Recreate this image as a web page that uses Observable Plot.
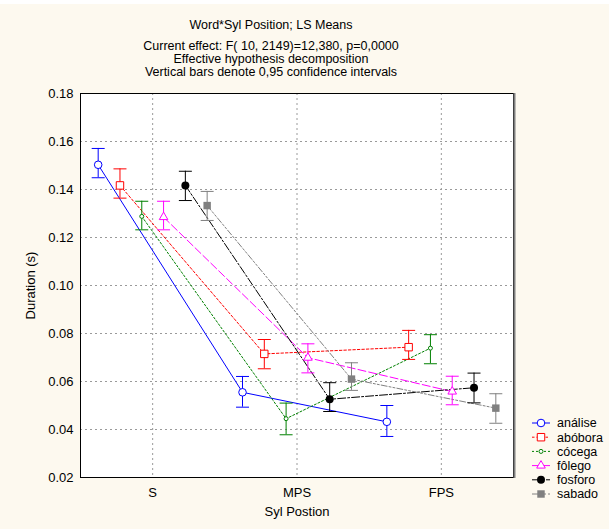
<!DOCTYPE html>
<html>
<head>
<meta charset="utf-8">
<script src="https://cdn.jsdelivr.net/npm/d3@7"></script>
<script src="https://cdn.jsdelivr.net/npm/@observablehq/plot@0.6"></script>
<style>
  html, body { margin: 0; padding: 0; background: #ffffff; }
  #chart { width: 609px; height: 529px; }
</style>
</head>
<body>
<div id="chart"></div>
<script>
// ---------- data ----------
const positions = ["S", "MPS", "FPS"];
const words = ["análise", "abóbora", "cócega", "fôlego", "fosforo", "sabado"];

const meanAnalise = [0.1503, 0.0555, 0.0432];
const lowAnalise  = [0.1449, 0.0493, 0.0371];
const highAnalise = [0.1571, 0.0621, 0.0500];

const meanAbobora = [0.1417, 0.0715, 0.0743];
const lowAbobora  = [0.1364, 0.0653, 0.0692];
const highAbobora = [0.1486, 0.0775, 0.0813];

const meanCocega = [0.1288, 0.0445, 0.0739];
const lowCocega  = [0.1232, 0.0378, 0.0674];
const highCocega = [0.1351, 0.0510, 0.0795];

const meanFolego = [0.1285, 0.0699, 0.0558];
const lowFolego  = [0.1232, 0.0636, 0.0503];
const highFolego = [0.1351, 0.0757, 0.0622];

const meanFosforo = [0.1417, 0.0526, 0.0574];
const lowFosforo  = [0.1354, 0.0475, 0.0511];
const highFosforo = [0.1476, 0.0595, 0.0635];

const meanSabado = [0.1333, 0.0610, 0.0489];
const lowSabado  = [0.1271, 0.0563, 0.0426];
const highSabado = [0.1392, 0.0678, 0.0549];

const yTicks = [0.02, 0.04, 0.06, 0.08, 0.10, 0.12, 0.14, 0.16, 0.18];

const titleLines = [
  "Word*Syl Position; LS Means",
  "Current effect: F( 10, 2149)=12,380, p=0,0000",
  "Effective hypothesis decomposition",
  "Vertical bars denote 0,95 confidence intervals"
];

// ---------- styles ----------
const styles = [
  {color: "#0000ff", dash: null,            symbol: "circle",   r: 3.8, fill: "white"},
  {color: "#ff0000", dash: "2.5,2",         symbol: "square",   r: 4.2, fill: "white"},
  {color: "#008000", dash: "2,2",           symbol: "circle",   r: 2.0, fill: "white"},
  {color: "#ff00ff", dash: "8,3",           symbol: "triangle", r: 3.2, fill: "white"},
  {color: "#000000", dash: "8,2,2,2",       symbol: "circle",   r: 4.0, fill: "#000000"},
  {color: "#808080", dash: "6,2,2,2,2,2",   symbol: "square",   r: 4.2, fill: "#808080"}
];

const means = [meanAnalise, meanAbobora, meanCocega, meanFolego, meanFosforo, meanSabado];
const lows  = [lowAnalise, lowAbobora, lowCocega, lowFolego, lowFosforo, lowSabado];
const highs = [highAnalise, highAbobora, highCocega, highFolego, highFosforo, highSabado];

const dodge = 0.151;   // horizontal offset between words (in category units)
const cap = 0.045;     // half width of CI caps

const rows = [];
words.forEach((w, k) => {
  positions.forEach((p, i) => {
    rows.push({word: w, k, pos: p, x: i + (k - 2.5) * dodge,
               mean: means[k][i], lo: lows[k][i], hi: highs[k][i]});
  });
});

const font = "'Liberation Sans', Arial, sans-serif";
const ML = 80, MR = 96, MT = 93, MB = 52, W = 609, H = 529;

const seriesMarks = [];
words.forEach((w, k) => {
  const s = styles[k];
  seriesMarks.push(Plot.line(rows.filter(d => d.k === k), {
    x: "x", y: "mean", stroke: s.color, strokeWidth: 1,
    strokeDasharray: s.dash || undefined
  }));
});
words.forEach((w, k) => {
  const s = styles[k];
  const data = rows.filter(d => d.k === k);
  seriesMarks.push(Plot.ruleX(data, {x: "x", y1: "lo", y2: "hi", stroke: s.color, strokeWidth: 1}));
  seriesMarks.push(Plot.link(data, {x1: d => d.x - cap, x2: d => d.x + cap, y1: "lo", y2: "lo", stroke: s.color, strokeWidth: 1}));
  seriesMarks.push(Plot.link(data, {x1: d => d.x - cap, x2: d => d.x + cap, y1: "hi", y2: "hi", stroke: s.color, strokeWidth: 1}));
});
words.forEach((w, k) => {
  const s = styles[k];
  seriesMarks.push(Plot.dot(rows.filter(d => d.k === k), {
    x: "x", y: "mean", symbol: () => s.symbol, r: s.r,
    fill: s.fill, stroke: s.fill === "white" ? s.color : "none", strokeWidth: 1
  }));
});

const titleDy = [-73, -52, -39, -26];

const plot = Plot.plot({
  width: W, height: H,
  marginLeft: ML, marginRight: MR, marginTop: MT, marginBottom: MB,
  style: {background: "#fdf9ef", fontFamily: font, fontSize: "12.5px", color: "#000", overflow: "visible"},
  x: {type: "linear", domain: [-0.5, 2.5]},
  y: {domain: [0.02, 0.18]},
  symbol: {type: "identity"},
  marks: [
    Plot.frame({fill: "white", stroke: "none"}),
    Plot.gridY(yTicks.slice(1, -1), {stroke: "#9a9a9a", strokeOpacity: 1, strokeDasharray: "2,3"}),
    Plot.gridX([0, 1, 2], {stroke: "#9a9a9a", strokeOpacity: 1, strokeDasharray: "2,3"}),
    Plot.axisY(yTicks, {tickSize: 0, tickPadding: 7, tickFormat: d3.format(".2f"), fontSize: 13,
      label: "Duration (s)", labelAnchor: "center", labelArrow: "none", labelOffset: 55}),
    Plot.axisX([0, 1, 2], {tickSize: 0, tickPadding: 10, tickFormat: i => positions[i], fontSize: 13,
      label: "Syl Postion", labelAnchor: "center", labelArrow: "none", labelOffset: 38}),
    ...seriesMarks,
    Plot.frame({stroke: "#000", strokeWidth: 1}),
    ...titleLines.map((t, i) => Plot.text([t], {text: d => d, frameAnchor: "top", dx: -26, dy: titleDy[i], fontSize: 12.5}))
  ]
});

document.getElementById("chart").appendChild(plot);

// ---------- legend & decorations ----------
const svg = d3.select(plot);
svg.append("line").attr("x1", W - MR + 1.5).attr("x2", W - MR + 1.5).attr("y1", MT).attr("y2", H - MB + 1)
  .attr("stroke", "#808080").attr("stroke-width", 2);
svg.append("rect").attr("x", 0).attr("y", 0).attr("width", W).attr("height", 4).attr("fill", "white");

const symTypes = {circle: d3.symbolCircle, square: d3.symbolSquare, triangle: d3.symbolTriangle};
const lg = svg.append("g").attr("font-family", font).attr("font-size", "12.5px").attr("text-anchor", "start");
words.forEach((w, k) => {
  const s = styles[k];
  const y = 423 + k * 14.2;
  lg.append("line").attr("x1", 532).attr("x2", 550).attr("y1", y).attr("y2", y)
    .attr("stroke", s.color).attr("stroke-dasharray", s.dash);
  lg.append("path").attr("transform", `translate(541,${y})`)
    .attr("d", d3.symbol(symTypes[s.symbol], Math.PI * s.r * s.r)())
    .attr("fill", s.fill).attr("stroke", s.fill === "white" ? s.color : "none");
  lg.append("text").attr("x", 557).attr("y", y).attr("dy", "0.35em").attr("text-anchor", "start").text(w);
});
</script>
</body>
</html>
